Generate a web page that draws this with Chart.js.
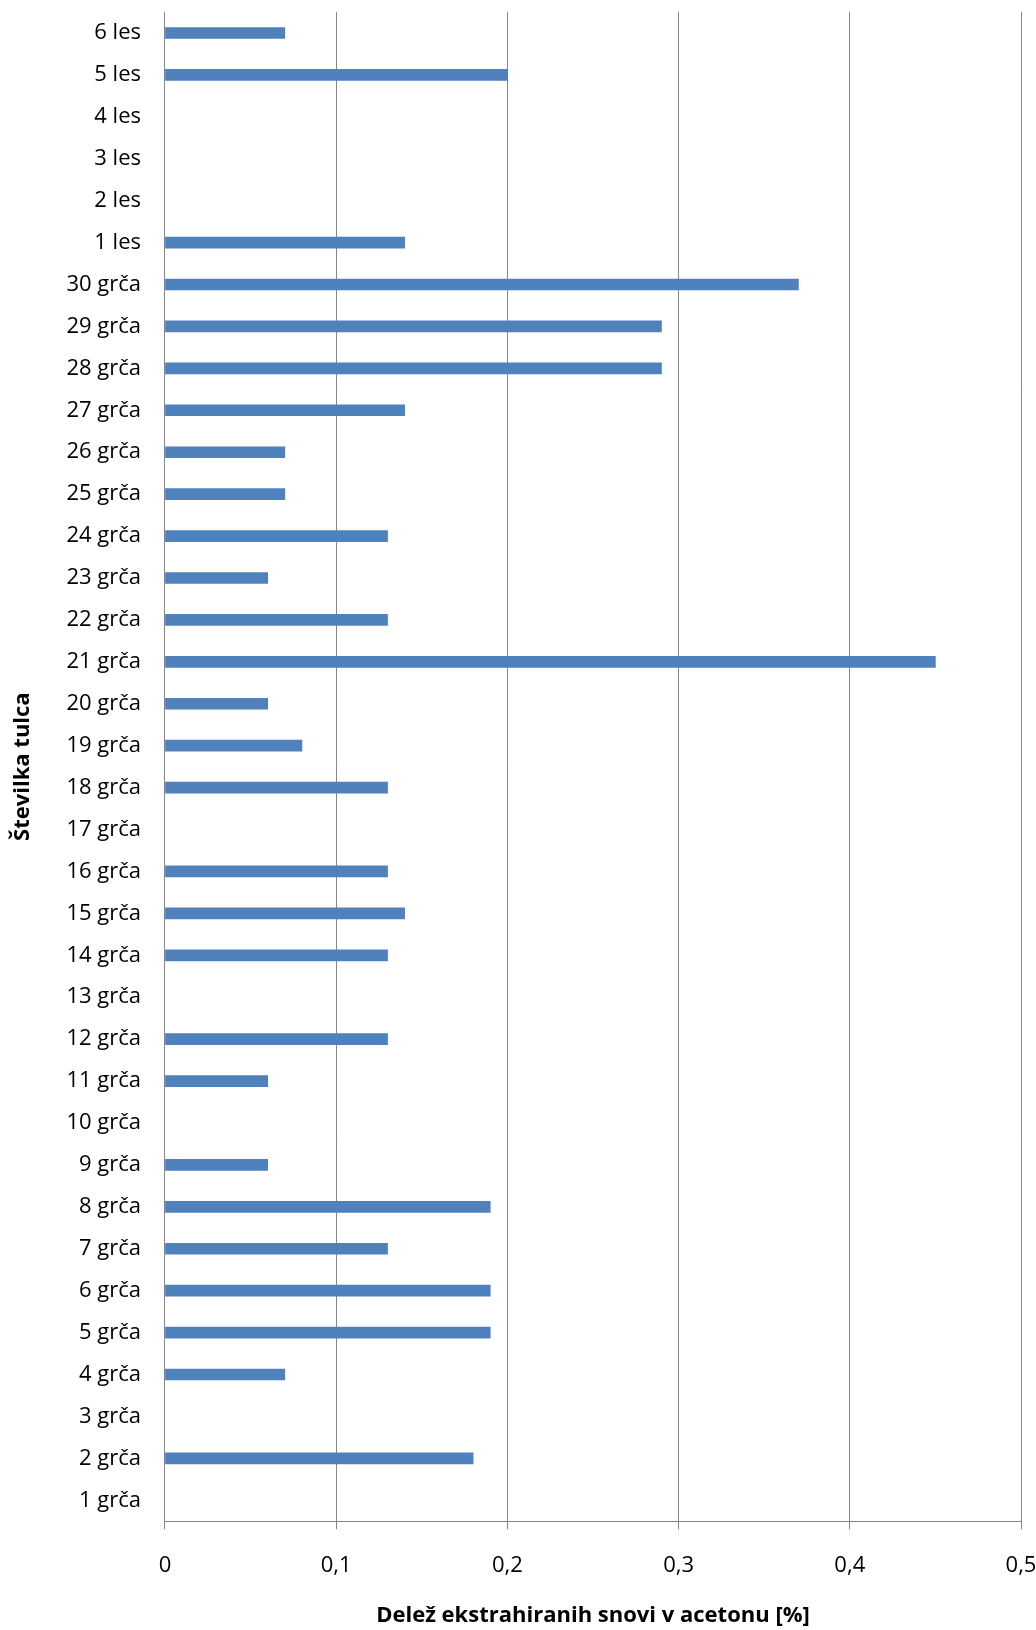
<!DOCTYPE html>
<html>
<head>
<meta charset="utf-8">
<script src="https://cdn.jsdelivr.net/npm/chart.js@4"></script>
<style>
  body { margin: 0; background: #fff; }
  #wrap { width: 1036px; height: 1630px; }
</style>
</head>
<body>
<div id="wrap"><canvas id="chart"></canvas></div>
<script>
// sample labels, bottom to top
const samples = [
  '1 grča', '2 grča', '3 grča', '4 grča', '5 grča', '6 grča', '7 grča', '8 grča', '9 grča', '10 grča',
  '11 grča', '12 grča', '13 grča', '14 grča', '15 grča', '16 grča', '17 grča', '18 grča', '19 grča', '20 grča',
  '21 grča', '22 grča', '23 grča', '24 grča', '25 grča', '26 grča', '27 grča', '28 grča', '29 grča', '30 grča',
  '1 les', '2 les', '3 les', '4 les', '5 les', '6 les'
];
// extracted share in acetone [%]
const extracted = [
  0, 0.18, 0, 0.07, 0.19, 0.19, 0.13, 0.19, 0.06, 0,
  0.06, 0.13, 0, 0.13, 0.14, 0.13, 0, 0.13, 0.08, 0.06,
  0.45, 0.13, 0.06, 0.13, 0.07, 0.07, 0.14, 0.29, 0.29, 0.37,
  0.14, 0, 0, 0, 0.20, 0.07
];
const xTicks = [0, 0.1, 0.2, 0.3, 0.4, 0.5];

const font = '"Open Sans", Lato, sans-serif';

new Chart(document.getElementById('chart'), {
  type: 'bar',
  data: {
    labels: samples,
    datasets: [{
      data: extracted,
      // empty samples get no sliver at the axis
      backgroundColor: ctx => ctx.raw ? '#4f81bd' : 'rgba(0,0,0,0)',
      borderWidth: 0,
      barThickness: 11
    }]
  },
  options: {
    indexAxis: 'y',
    responsive: true,
    maintainAspectRatio: false,
    animation: false,
    layout: { padding: { top: 12, right: 3, bottom: 1, left: 10 } },
    plugins: { legend: { display: false }, tooltip: { enabled: false } },
    scales: {
      x: {
        min: 0,
        max: 0.5,
        afterBuildTicks: axis => { axis.ticks = xTicks.map(v => ({ value: v })); },
        // tick padding shouldn't push the plot in from the sides
        afterFit: axis => { axis.paddingLeft = 12; axis.paddingRight = 15; },
        ticks: {
          color: '#000',
          font: { family: font, size: 22, lineHeight: 1.06 },
          padding: 25,
          callback: v => String(v).replace('.', ',')
        },
        grid: { color: '#868686', lineWidth: 1, tickLength: 8 },
        border: { color: '#868686' },
        title: {
          display: true,
          text: 'Delež ekstrahiranih snovi v acetonu [%]',
          color: '#000',
          font: { family: font, size: 22, weight: 'bold' },
          padding: { top: 0, bottom: 0 }
        }
      },
      y: {
        reverse: true,
        afterFit: axis => { axis.paddingTop = 0; axis.paddingBottom = 0; },
        ticks: {
          color: '#000',
          font: { family: font, size: 22 },
          padding: 24,
          autoSkip: false
        },
        grid: { display: false, drawTicks: false },
        border: { color: '#868686' },
        title: {
          display: true,
          text: 'Številka tulca',
          color: '#000',
          font: { family: font, size: 22, weight: 'bold' },
          padding: { top: 0, bottom: 6 }
        }
      }
    }
  }
});
</script>
</body>
</html>
